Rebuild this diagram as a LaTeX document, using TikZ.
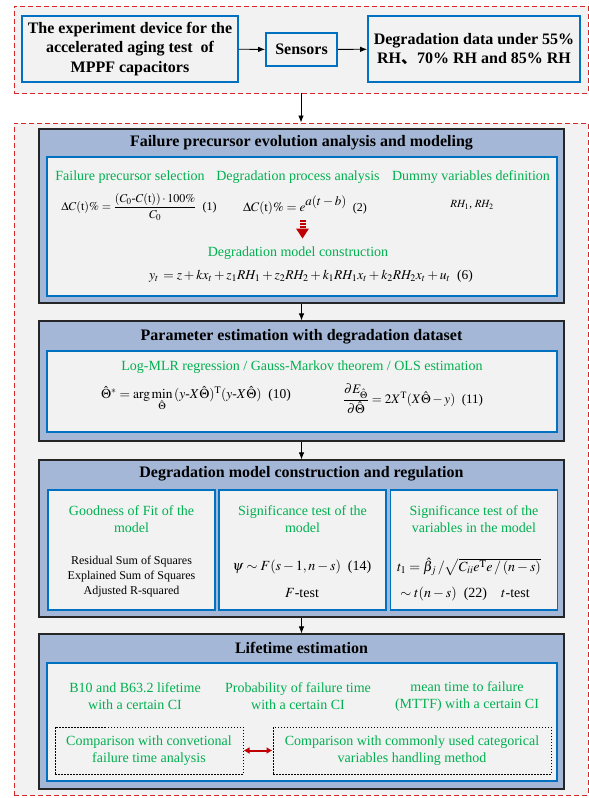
\documentclass[tikz,border=0pt]{standalone}
\usepackage{amsmath}
\usepackage{mathptmx}
\usepackage{fontspec}
\setmainfont{Liberation Serif}
\newfontfamily\cjk{Noto Sans CJK SC}
\usetikzlibrary{arrows.meta}

\definecolor{dashred}{RGB}{214,40,40}
\definecolor{panelgray}{RGB}{242,242,242}
\definecolor{secblue}{RGB}{164,183,214}
\definecolor{boxblue}{RGB}{0,112,192}
\definecolor{txtgreen}{RGB}{0,176,80}
\definecolor{arrred}{RGB}{192,0,0}

\tikzset{
  dashframe/.style={draw=dashred, fill=panelgray, line width=0.9pt, dash pattern=on 5pt off 3pt},
  secframe/.style={draw=black!85, fill=secblue, line width=1.2pt},
  bluebox/.style={draw=boxblue, fill=panelgray, line width=1.8pt, inner sep=2pt},
  dotbox/.style={draw=black, line width=1pt, dash pattern=on 1.5pt off 1.5pt, inner sep=2pt},
  headtxt/.style={font=\fontsize{16}{19.5}\selectfont\bfseries, align=center},
  greentxt/.style={text=txtgreen, font=\fontsize{14}{17}\selectfont, align=center},
  blacktxt/.style={font=\fontsize{12}{15}\selectfont, align=center},
  eqtxt/.style={font=\fontsize{12}{15}\selectfont, inner sep=1pt}
}

\begin{document}
\begin{tikzpicture}[x=1pt, y=-1pt, >={Latex[length=7pt,width=5.5pt]}]
  % --- SETTINGS ---
  \def\cx{301.5}   % centre line of the flow
  \def\secW{525}   % width of a section frame
  \def\inW{510}    % width of an inner box

  \useasboundingbox (0,0) rectangle (589,798);

  % --- DASHED FRAMES ---
  \node[dashframe, minimum width=574pt, minimum height=87pt] (topframe) at (301,49.5) {};
  \node[dashframe, minimum width=574pt, minimum height=672pt] (mainframe) at (301,459) {};

  % --- TEST SET-UP ---
  \node[bluebox, headtxt, minimum width=216pt, minimum height=66pt] (device) at (130,49)
    {The experiment device for the\\accelerated aging test\ \ of\\MPPF capacitors};
  \node[bluebox, headtxt, minimum width=71pt, minimum height=33pt] (sensors) at (301.5,49.5) {Sensors};
  \node[bluebox, headtxt, minimum width=212pt, minimum height=66pt] (degdata) at (474,49)
    {Degradation data under 55\%\\RH{\cjk 、}70\% RH and 85\% RH};
  \draw[->, thick] (device) -- (sensors);
  \draw[->, thick] (sensors) -- (degdata);
  \draw[->, thick] (topframe.south) -- (mainframe.north);

  % --- SECTION FRAMES ---
  \foreach \name/\y/\h in {sec1/216/174, sec2/381/120, sec3/538.5/157, sec4/711.5/155} {
    \node[secframe, minimum width=\secW pt, minimum height=\h pt] (\name) at (\cx,\y) {};
  }
  \foreach \a/\b in {sec1/sec2, sec2/sec3, sec3/sec4} {
    \draw[->, thick] (\a.south) -- (\b.north);
  }

  % =========================================
  % FAILURE PRECURSOR EVOLUTION
  % =========================================
  \node[headtxt] (title1) at (\cx,143) {Failure precursor evolution analysis and modeling};
  \node[bluebox, minimum width=\inW pt, minimum height=139pt] (in1) at (302,226.5) {};
  \node[greentxt] (selection) at (130,177) {Failure precursor selection};
  \node[greentxt] (process) at (298,177) {Degradation process analysis};
  \node[greentxt] (dummy) at (471,177) {Dummy variables definition};
  \node[eqtxt] (eq1) at (139,207) {$\Delta C(\mathrm{t})\%=\dfrac{(C_0\text{-}C(\mathrm{t}))\cdot 100\%}{C_0}$\ \ (1)};
  \node[eqtxt, font=\fontsize{13}{15}\selectfont] (eq2) at (305,205)
    {$\Delta C(\mathrm{t})\%=e$\raisebox{6pt}{$a(t-b)$}\ \ {\fontsize{12}{14}\selectfont(2)}};
  \node[eqtxt, font=\fontsize{11}{13}\selectfont] (rh) at (472,205) {$RH_1$, $RH_2$};
  % red block arrow
  \coordinate (redtip) at (302.5,238.5);
  \foreach \d in {18.5, 15.5, 12.5} {
    \fill[arrred] ([xshift=-3pt, yshift=\d pt]redtip) rectangle ([xshift=3pt, yshift=\d pt-1.8pt]redtip);
  }
  \fill[arrred] ([xshift=-6.5pt, yshift=10pt]redtip) -- ([xshift=6.5pt, yshift=10pt]redtip) -- (redtip) -- cycle;
  \node[greentxt] (construction) at (298,253) {Degradation model construction};
  \node[eqtxt, font=\fontsize{13.5}{15}\selectfont] (eq6) at (311,276)
    {$y_t\,=z+kx_t+z_1RH_1+z_2RH_2+k_1RH_1x_t+k_2RH_2x_t+u_t$\ \ (6)};

  % =========================================
  % PARAMETER ESTIMATION
  % =========================================
  \node[headtxt] (title2) at (\cx,337) {Parameter estimation with degradation dataset};
  \node[bluebox, minimum width=\inW pt, minimum height=81pt] (in2) at (302,391.5) {};
  \node[greentxt] (ols) at (302,367) {Log-MLR regression / Gauss-Markov theorem / OLS estimation};
  \node[eqtxt, font=\fontsize{13.5}{15}\selectfont] (eq10) at (196,399)
    {$\hat{\Theta}^{*}=\arg\min\limits_{\hat{\Theta}}\,(y\text{-}X\hat{\Theta})^{\mathrm{T}}(y\text{-}X\hat{\Theta})$\ \ (10)};
  \node[eqtxt, font=\fontsize{13}{15}\selectfont] (eq11) at (413,399)
    {$\dfrac{\partial E_{\hat{\Theta}}}{\partial\hat{\Theta}}=2X^{\mathrm{T}}(X\hat{\Theta}-y)$\ \ (11)};

  % =========================================
  % MODEL CONSTRUCTION AND REGULATION
  % =========================================
  \node[headtxt] (title3) at (\cx,474) {Degradation model construction and regulation};
  \foreach \name/\x in {fitbox/131.5, modelbox/302.5, varbox/474} {
    \node[bluebox, minimum width=167pt, minimum height=120pt] (\name) at (\x,550) {};
  }
  \node[greentxt] (fit) at (131.5,519.5) {Goodness of Fit of the\\model};
  \node[greentxt] (sigmodel) at (302.5,519.5) {Significance test of the\\model};
  \node[greentxt] (sigvar) at (474,519.5) {Significance test of the\\variables in the model};
  \node[blacktxt] (squares) at (131.5,577) {Residual Sum of Squares\\Explained Sum of Squares\\Adjusted R-squared};
  \node[eqtxt, font=\fontsize{14}{16}\selectfont] (eq14) at (302,567) {$\psi\sim F(s-1,n-s)$\ \ (14)};
  \node[blacktxt, font=\fontsize{14}{16}\selectfont] (ftest) at (302,593) {$F$-test};
  \node[eqtxt, font=\fontsize{14}{16}\selectfont] (eq22) at (469,567) {$t_1=\hat{\beta}_j\,/\sqrt{C_{ii}e^{\mathrm{T}}e\,/\,(n-s)}$};
  \node[eqtxt, font=\fontsize{14}{16}\selectfont] (ttest) at (465,594) {$\sim t(n-s)$\ \ (22)\quad $t$-test};

  % =========================================
  % LIFETIME ESTIMATION
  % =========================================
  \node[headtxt] (title4) at (\cx,648) {Lifetime estimation};
  \node[bluebox, minimum width=\inW pt, minimum height=118pt] (in4) at (302,722) {};
  \node[greentxt] (bten) at (135,696.5) {B10 and B63.2 lifetime\\with a certain CI};
  \node[greentxt] (probfail) at (298,696.5) {Probability of failure time\\with a certain CI};
  \node[greentxt] (mttf) at (467,696.5) {mean time to failure\\(MTTF) with a certain CI};
  \node[dotbox, greentxt, minimum width=188pt, minimum height=47pt] (conventional) at (149,750.5)
    {Comparison with convetional\\failure time analysis};
  \node[dotbox, greentxt, minimum width=278pt, minimum height=47pt] (categorical) at (412,750.5)
    {Comparison with commonly used categorical\\variables handling method};
  \draw[{Latex[length=6pt,width=7pt]}-{Latex[length=6pt,width=7pt]}, arrred, line width=2pt]
    (conventional) -- (categorical);

\end{tikzpicture}
\end{document}
